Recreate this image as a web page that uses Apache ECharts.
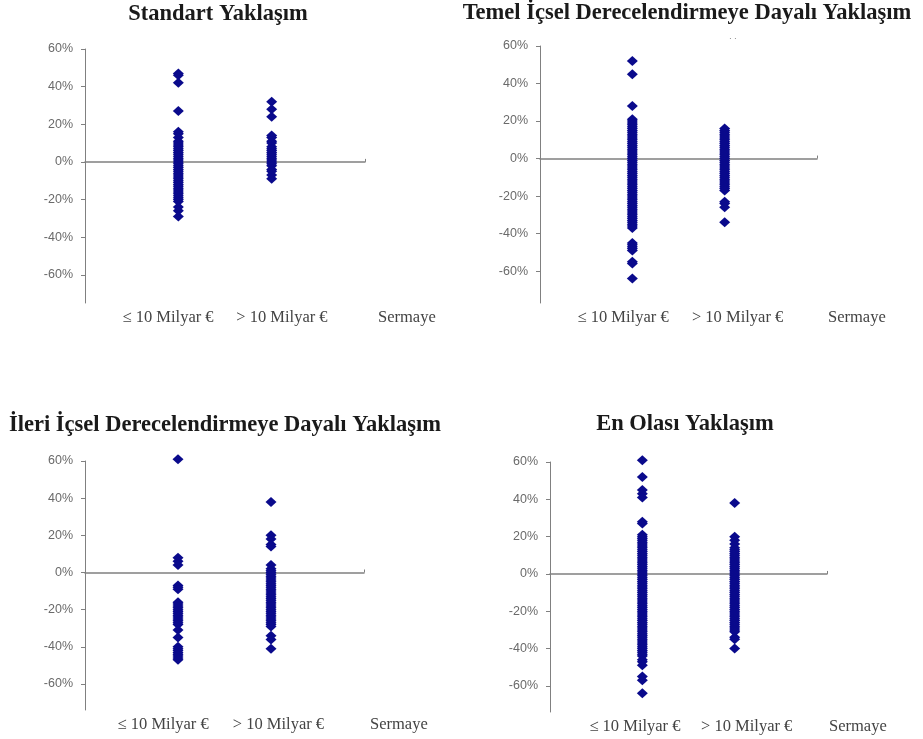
<!DOCTYPE html>
<html><head><meta charset="utf-8">
<script src="https://cdn.jsdelivr.net/npm/echarts@6/dist/echarts.min.js"></script>
<style>html,body{margin:0;padding:0;background:#fff}#c{width:923px;height:739px}</style>
</head><body><div id="c"></div>
<script>
// ---- data ----
const panelTitles = [
  'Standart Yaklaşım',
  'Temel İçsel Derecelendirmeye Dayalı Yaklaşım',
  'İleri İçsel Derecelendirmeye Dayalı Yaklaşım',
  'En Olası Yaklaşım'
];
const categories = ['≤ 10 Milyar €', '> 10 Milyar €'];
const axisTitle = 'Sermaye';
const yTicks = [-60, -40, -20, 0, 20, 40, 60];

const standartSmall = [47, 46, 42, 27, 16, 15, 13, 11, 10, 9, 8, 7, 6, 5, 4, 3, 2, 1, 0, -1, -2, -3, -4, -5, -6, -7, -8, -9, -10, -11, -12, -13, -14, -15, -16, -17, -18, -19, -20, -21, -24, -26, -29];
const standartLarge = [32, 28, 24, 14, 13, 11, 10, 8, 7, 6, 5, 4, 3, 2, 1, 0, -1, -2, -4, -5, -7, -9];

const temelSmall = [52, 45, 28, 21, 20, 19, 18, 17, 16, 15, 14, 13, 12, 11, 10, 9, 8, 7, 6, 5, 4, 3, 2, 1, 0, -1, -2, -3, -4, -5, -6, -7, -8, -9, -10, -11, -12, -13, -14, -15, -16, -17, -18, -19, -20, -21, -22, -23, -24, -25, -26, -27, -28, -29, -30, -31, -32, -33, -34, -35, -36, -37, -45, -46, -47, -48, -49, -55, -56, -64];
const temelLarge = [16, 15, 14, 13, 12, 11, 10, 9, 8, 7, 6, 5, 4, 3, 2, 1, 0, -1, -2, -3, -4, -5, -6, -7, -8, -9, -10, -11, -12, -13, -14, -15, -16, -17, -23, -24, -26, -34];

const ileriSmall = [61, 8, 6, 4, -7, -8, -9, -16, -17, -18, -19, -20, -21, -22, -23, -24, -25, -26, -27, -28, -31, -35, -40, -41, -42, -43, -44, -45, -46, -47];
const ileriLarge = [38, 20, 18, 15, 14, 4, 2, 1, 0, -1, -2, -3, -4, -5, -6, -7, -8, -9, -10, -11, -12, -13, -14, -15, -16, -17, -18, -19, -20, -21, -22, -23, -24, -25, -26, -27, -28, -29, -34, -36, -41];

const olasiSmall = [61, 52, 45, 43, 41, 28, 27, 21, 20, 19, 18, 17, 16, 15, 14, 13, 12, 11, 10, 9, 8, 7, 6, 5, 4, 3, 2, 1, 0, -1, -2, -3, -4, -5, -6, -7, -8, -9, -10, -11, -12, -13, -14, -15, -16, -17, -18, -19, -20, -21, -22, -23, -24, -25, -26, -27, -28, -29, -30, -31, -32, -33, -34, -35, -36, -37, -38, -39, -40, -41, -42, -43, -44, -46, -47, -49, -55, -57, -64];
const olasiLarge = [38, 20, 18, 16, 14, 13, 12, 11, 10, 9, 8, 7, 6, 5, 4, 3, 2, 1, 0, -1, -2, -3, -4, -5, -6, -7, -8, -9, -10, -11, -12, -13, -14, -15, -16, -17, -18, -19, -20, -21, -22, -23, -24, -25, -26, -27, -28, -29, -30, -31, -34, -35, -40];

// ---- layout ----
const layout = [
  {left: 85,  top: 49,   width: 280, height: 254, ymin: -75, labelPos: [0.89, 2.11], nameGap: 13, tx: 218, ty: 3},
  {left: 540, top: 46,   width: 277, height: 257, ymin: -77, labelPos: [0.90, 2.14], nameGap: 11, tx: 687, ty: 2},
  {left: 85,  top: 461,  width: 279, height: 249, ymin: -74, labelPos: [0.84, 2.08], nameGap: 6,  tx: 225, ty: 414},
  {left: 550, top: 462,  width: 277, height: 250, ymin: -74, labelPos: [0.92, 2.13], nameGap: 2,  tx: 685, ty: 413}
];
const seriesData = [
  [standartSmall, standartLarge],
  [temelSmall, temelLarge],
  [ileriSmall, ileriLarge],
  [olasiSmall, olasiLarge]
];

const axisGray = '#808080';
const dotColor = '#0a0a8c';
const grid = [], xAxis = [], yAxis = [], series = [], title = [];
layout.forEach((p, i) => {
  grid.push({left: p.left, top: p.top, width: p.width, height: p.height, containLabel: false});
  title.push({
    text: panelTitles[i], left: p.tx, top: p.ty, textAlign: 'center', padding: 0,
    textStyle: {fontFamily: 'Liberation Serif', fontWeight: 'bold', fontSize: 22.5, color: '#1a1a1a'}
  });
  // axis line at zero
  xAxis.push({
    gridIndex: i, type: 'value', min: 0, max: 3, position: 'bottom',
    axisLine: {show: true, onZero: true, lineStyle: {color: axisGray, width: 1.5}},
    axisTick: {show: true, customValues: [3], inside: true, length: 3, lineStyle: {color: axisGray}},
    axisLabel: {show: false}, splitLine: {show: false}
  });
  // category labels at the bottom
  xAxis.push({
    gridIndex: i, type: 'value', min: 0, max: 3, position: 'bottom',
    axisLine: {show: false, onZero: false}, axisTick: {show: false}, splitLine: {show: false},
    axisLabel: {
      customValues: p.labelPos, margin: 6,
      formatter: v => (v < 1.5 ? categories[0] : categories[1]),
      fontFamily: 'Liberation Serif', fontSize: 16.5, color: '#444'
    },
    name: axisTitle, nameLocation: 'end', nameGap: p.nameGap,
    nameTextStyle: {fontFamily: 'Liberation Serif', fontSize: 16.5, color: '#444', verticalAlign: 'top', padding: [6, 0, 0, 0]}
  });
  yAxis.push({
    gridIndex: i, type: 'value', min: p.ymin, max: 60,
    axisLine: {show: true, onZero: false, lineStyle: {color: axisGray, width: 1}},
    axisTick: {show: true, customValues: yTicks, length: 4, lineStyle: {color: axisGray}},
    axisLabel: {customValues: yTicks, formatter: '{value}%', margin: 12, fontFamily: 'Liberation Sans', fontSize: 12.5, color: '#6a6a6a'},
    splitLine: {show: false}
  });
  seriesData[i].forEach((vals, k) => {
    series.push({
      type: 'scatter', xAxisIndex: i * 2, yAxisIndex: i,
      data: vals.map(v => [k + 1, v]),
      symbol: 'diamond', symbolSize: [11, 10], clip: false,
      itemStyle: {color: dotColor, opacity: 1},
      animation: false
    });
  });
});

const chart = echarts.init(document.getElementById('c'), null, {renderer: 'canvas'});
chart.setOption({
  backgroundColor: '#fff',
  animation: false,
  title, grid, xAxis, yAxis, series,
  graphic: [{type: 'text', left: 729, top: 35, style: {text: '· ·', fontSize: 8, fill: '#777'}}]
});
</script></body></html>
